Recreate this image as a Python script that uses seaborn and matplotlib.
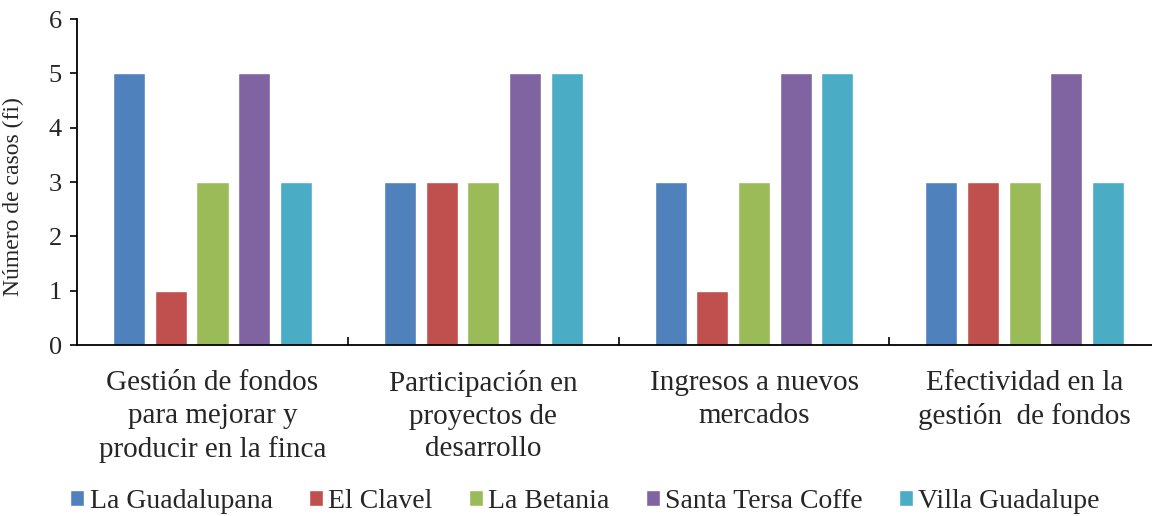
import matplotlib
matplotlib.use("Agg")
import matplotlib.pyplot as plt
import seaborn as sns
import pandas as pd

categorias = [
    "Gestión de fondos\npara mejorar y\nproducir en la finca",
    "Participación en\nproyectos de\ndesarrollo",
    "Ingresos a nuevos\nmercados",
    "Efectividad en la\ngestión  de fondos",
]
fincas = ["La Guadalupana", "El Clavel", "La Betania", "Santa Tersa Coffe", "Villa Guadalupe"]
la_guadalupana = [5, 3, 3, 3]
el_clavel = [1, 3, 1, 3]
la_betania = [3, 3, 3, 3]
santa_tersa = [5, 5, 5, 5]
villa_guadalupe = [3, 5, 5, 3]
colores = ["#4F81BD", "#C0504D", "#9BBB59", "#8064A2", "#4BACC6"]

series = [la_guadalupana, el_clavel, la_betania, santa_tersa, villa_guadalupe]
rows = []
for finca, vals in zip(fincas, series):
    for cat, v in zip(categorias, vals):
        rows.append({"categoria": cat, "finca": finca, "casos": v})
df = pd.DataFrame(rows)

sns.set_style("white")
plt.rcParams["font.family"] = ["Liberation Serif", "DejaVu Serif"]

fig = plt.figure(figsize=(11.52, 5.16), dpi=100)
ax = fig.add_axes([0.067, 0.331, 0.933, 0.632])

sns.barplot(data=df, x="categoria", y="casos", hue="finca", palette=colores,
            width=0.77, gap=0.23, saturation=1, ax=ax, legend=True)

ax.set_ylim(0, 6)
ax.set_xlim(-0.5, 3.47)
ax.set_yticks(range(0, 7))
ax.tick_params(axis="y", labelsize=19, length=5, width=1.2, direction="out", left=True,
               color="black", pad=6)
ax.set_xticks(range(len(categorias)))
ax.set_xticklabels(categorias, fontsize=21, linespacing=1.33)
ax.tick_params(axis="x", length=0, pad=18)
ax.set_xticks([0.5, 1.5, 2.5], minor=True)
ax.tick_params(axis="x", which="minor", direction="in", length=6, width=1.2, bottom=True, color="black")
ax.set_xlabel("")
ax.set_ylabel("Número de casos (fi)", fontsize=17)
ax.yaxis.set_label_coords(-0.049, 0.455)

for s in ["top", "right"]:
    ax.spines[s].set_visible(False)
for s in ["left", "bottom"]:
    ax.spines[s].set_color("black")
    ax.spines[s].set_linewidth(1.3)

handles, labels = ax.get_legend_handles_labels()
ax.get_legend().remove()
fig.legend(handles, labels, loc="lower center", bbox_to_anchor=(0.508, -0.045), ncol=5,
           frameon=False, fontsize=20, handlelength=0.5, handleheight=0.5,
           handletextpad=0.2, columnspacing=1.3)

fig.savefig("out.png", dpi=100)
